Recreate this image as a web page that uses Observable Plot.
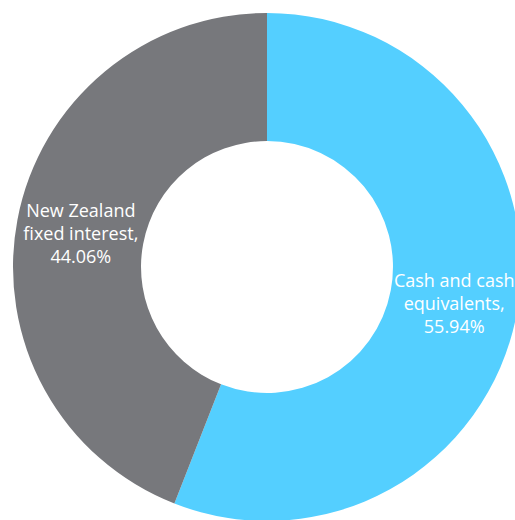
<!DOCTYPE html>
<html>
<head>
<meta charset="utf-8">
<script src="https://cdn.jsdelivr.net/npm/d3@7"></script>
<script src="https://cdn.jsdelivr.net/npm/@observablehq/plot@0.6"></script>
<style>
  html, body { margin: 0; padding: 0; background: #fff; }
  #chart svg { display: block; }
</style>
</head>
<body>
<div id="chart"></div>
<script>
const categories = ["Cash and cash equivalents", "New Zealand fixed interest"];
const shares = [55.94, 44.06];
const labelLines = [
  ["Cash and cash", "equivalents,", "55.94%"],
  ["New Zealand", "fixed interest,", "44.06%"]
];
const colors = ["#54CFFF", "#77787C"];

const innerRatio = 0.496;
const pie = d3.pie().sort(null).value(d => d.share);
const rows = categories.map((c, i) => ({category: c, share: shares[i], label: labelLines[i].join("\n"), color: colors[i]}));
const arcs = pie(rows);
const unitArc = d3.arc().innerRadius(innerRatio).outerRadius(1);
const labels = arcs.map(a => {
  const [cx, cy] = unitArc.centroid(a);
  return {x: cx, y: -cy, text: a.data.label};
});

function donutMark(index, scales, values, dimensions) {
  const cx = scales.x(0), cy = scales.y(0);
  const R = Math.abs(scales.x(1) - scales.x(0));
  const arcGen = d3.arc().innerRadius(R * innerRatio).outerRadius(R);
  const g = d3.create("svg:g").attr("transform", `translate(${cx},${cy})`);
  g.selectAll("path").data(arcs).join("path")
    .attr("d", arcGen)
    .attr("fill", d => d.data.color);
  return g.node();
}

const chart = Plot.plot({
  width: 515,
  height: 520,
  margin: 0,
  x: {domain: [-1, 1], range: [13, 521], axis: null},
  y: {domain: [-1, 1], range: [521, 13], axis: null},
  style: {fontFamily: "Open Sans", background: "#fff"},
  marks: [
    donutMark,
    Plot.text(labels, {
      x: "x", y: "y", text: "text",
      fill: "white", fontSize: 18, lineHeight: 1.28,
      textAnchor: "middle", lineAnchor: "middle"
    })
  ]
});
document.getElementById("chart").appendChild(chart);
</script>
</body>
</html>
